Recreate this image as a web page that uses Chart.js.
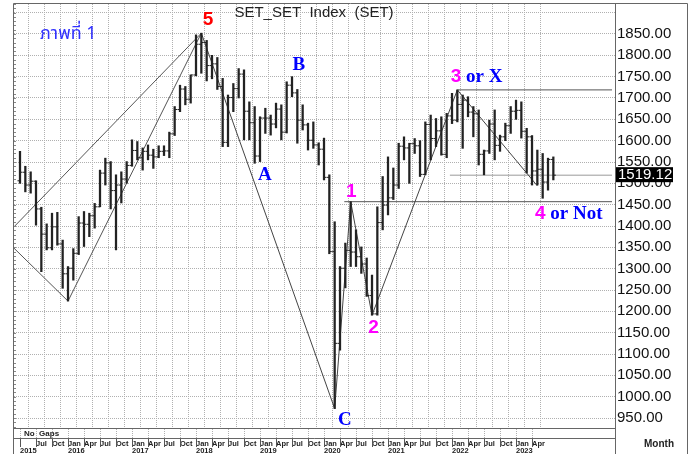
<!DOCTYPE html>
<html>
<head>
<meta charset="utf-8">
<script src="https://cdn.jsdelivr.net/npm/chart.js@4.4.0/dist/chart.umd.min.js"></script>
<style>
  html, body { margin: 0; padding: 0; background: #fff; }
  #wrap { width: 691px; height: 454px; }
</style>
</head>
<body>
<div id="wrap"><canvas id="setChart" width="691" height="454"></canvas></div>
<script>
// SET index, monthly bars Apr 2015 .. Aug 2023
// month index: 0 = Jan 2015, first bar = Apr 2015
const firstMonth = 3;
const opens = [
  1506, 1526, 1496, 1505, 1440, 1381, 1349, 1398, 1358,
  1288, 1301, 1336, 1407, 1404, 1424, 1445, 1524, 1548, 1483, 1496, 1510,
  1542, 1577, 1560, 1575, 1566, 1562, 1575, 1576, 1616, 1673, 1721, 1697,
  1754, 1826, 1830, 1776, 1780, 1727, 1596, 1701, 1722, 1756, 1669, 1642,
  1564, 1653, 1653, 1639, 1674, 1620, 1730, 1712, 1648, 1637, 1601, 1590,
  1580, 1514, 1340, 1125, 1301, 1343, 1339, 1328, 1311, 1237, 1194, 1408,
  1449, 1466, 1496, 1587, 1583, 1593, 1588, 1521, 1638, 1605, 1623, 1568,
  1658, 1648, 1685, 1695, 1667, 1663, 1568, 1576, 1639, 1589, 1609, 1635,
  1669, 1671, 1622, 1609, 1529, 1533, 1503, 1556
];
const highs = [
  1575, 1540, 1527, 1506, 1444, 1405, 1430, 1432, 1367,
  1305, 1347, 1422, 1434, 1430, 1453, 1531, 1559, 1551, 1520, 1527, 1551,
  1602, 1598, 1583, 1590, 1580, 1588, 1588, 1620, 1680, 1730, 1727, 1754,
  1848, 1852, 1835, 1800, 1795, 1746, 1707, 1734, 1769, 1766, 1691, 1680,
  1656, 1676, 1660, 1688, 1684, 1738, 1750, 1720, 1684, 1641, 1644, 1595,
  1606, 1520, 1410, 1305, 1360, 1457, 1391, 1351, 1325, 1285, 1445, 1516,
  1562, 1536, 1594, 1609, 1594, 1605, 1600, 1644, 1660, 1652, 1656, 1664,
  1711, 1719, 1707, 1703, 1680, 1672, 1578, 1648, 1672, 1613, 1641, 1680,
  1695, 1691, 1629, 1612, 1578, 1570, 1559, 1562
];
const lows = [
  1500, 1480, 1477, 1402, 1293, 1344, 1344, 1355, 1254,
  1224, 1273, 1333, 1352, 1375, 1395, 1445, 1496, 1440, 1344, 1454, 1500,
  1540, 1555, 1531, 1555, 1535, 1560, 1565, 1560, 1612, 1668, 1684, 1688,
  1752, 1758, 1740, 1745, 1720, 1586, 1586, 1668, 1700, 1602, 1602, 1547,
  1551, 1617, 1613, 1630, 1602, 1618, 1703, 1594, 1625, 1578, 1582, 1543,
  1508, 1335, 972, 1109, 1255, 1305, 1305, 1289, 1235, 1191, 1191, 1391,
  1426, 1462, 1488, 1555, 1500, 1570, 1516, 1520, 1555, 1586, 1566, 1560,
  1640, 1644, 1582, 1656, 1609, 1543, 1520, 1570, 1555, 1575, 1600, 1617,
  1650, 1606, 1524, 1496, 1496, 1465, 1484, 1508
];
const closes = [
  1526, 1496, 1505, 1440, 1381, 1349, 1398, 1358, 1288,
  1301, 1336, 1407, 1404, 1424, 1445, 1524, 1548, 1483, 1496, 1510, 1542,
  1577, 1560, 1575, 1566, 1562, 1575, 1576, 1616, 1673, 1721, 1697, 1754,
  1826, 1830, 1776, 1780, 1727, 1596, 1701, 1722, 1756, 1669, 1642, 1564,
  1653, 1653, 1639, 1674, 1620, 1730, 1712, 1648, 1637, 1601, 1590, 1580,
  1514, 1340, 1125, 1301, 1343, 1339, 1328, 1311, 1237, 1194, 1408, 1449,
  1466, 1496, 1587, 1583, 1593, 1588, 1521, 1638, 1605, 1623, 1568, 1658,
  1648, 1685, 1695, 1667, 1663, 1568, 1576, 1639, 1589, 1609, 1635, 1669,
  1671, 1622, 1609, 1529, 1533, 1503, 1556, 1519.12
];
const lastPrice = 1519.12;

// wave count drawn on the chart: [month index, price]
const outerLine = [[1.875, 1398], [37, 1852]];
const lowerLine = [[1.875, 1348], [12, 1224]];
const riseLine = [[12, 1224], [37, 1852]];
const waveLine = [[37, 1852], [62, 972], [65, 1457], [69, 1191], [85, 1719], [100, 1494]];
const level1Line = [[63.8, 1457], [114, 1457]];
const level3Line = [[85, 1719], [114, 1719]];
const lastLine = [[83.6, lastPrice], [114, lastPrice]];

// labels: [text parts, month index (left or centre), price]
const waveLabels = [
  { parts: [['5', '#ff0000', 'sans']], m: 38.25, v: 1883, align: 'center' },
  { parts: [['B', '#0000ff', 'serif']], m: 55.3, v: 1778, align: 'center' },
  { parts: [['A', '#0000ff', 'serif']], m: 48.9, v: 1520, align: 'center' },
  { parts: [['C', '#0000ff', 'serif']], m: 63.9, v: 945, align: 'center' },
  { parts: [['1', '#ff00ff', 'sans']], m: 65.1, v: 1481, align: 'center' },
  { parts: [['2', '#ff00ff', 'sans']], m: 69.3, v: 1162, align: 'center' },
  { parts: [['3', '#ff00ff', 'sans'], [' or X', '#0000ff', 'serif']], m: 83.76, v: 1749, align: 'left' },
  { parts: [['4', '#ff00ff', 'sans'], [' or Not', '#0000ff', 'serif']], m: 99.56, v: 1429, align: 'left' }
];

const quarterNames = { 0: 'Jan', 3: 'Apr', 6: 'Jul', 9: 'Oct' };
const lastTickMonth = 99;

const toXY = pts => pts.map(p => ({ x: p[0], y: p[1] }));
const barData = highs.map((h, i) => ({ x: firstMonth + i, y: [lows[i], h] }));

function lineSet(pts, color) {
  return {
    type: 'line', data: toXY(pts), borderColor: color, borderWidth: 1,
    pointRadius: 0, fill: false, tension: 0
  };
}

function noPadding(s) {
  s.paddingTop = 0; s.paddingBottom = 0;
  s.paddingLeft = 0; s.paddingRight = 0;
}

const ohlcTicks = {
  id: 'ohlcTicks',
  afterDatasetsDraw(chart) {
    const { ctx, scales: { x, y } } = chart;
    ctx.save();
    ctx.strokeStyle = '#222';
    ctx.lineWidth = 1;
    opens.forEach((o, i) => {
      const px = x.getPixelForValue(firstMonth + i);
      const yo = y.getPixelForValue(o);
      const yc = y.getPixelForValue(closes[i]);
      ctx.beginPath();
      ctx.moveTo(px - 2.5, yo); ctx.lineTo(px, yo);
      ctx.moveTo(px, yc); ctx.lineTo(px + 2.5, yc);
      ctx.stroke();
    });
    ctx.restore();
  }
};

const decorations = {
  id: 'decorations',
  beforeDraw(chart) {
    const { ctx } = chart;
    ctx.save();
    ctx.fillStyle = '#fff';
    ctx.fillRect(0, 0, chart.width, chart.height);
    ctx.restore();
  },
  afterDraw(chart) {
    const { ctx, chartArea: ca, scales: { x, y } } = chart;
    ctx.save();

    // wave labels
    waveLabels.forEach(l => {
      let px = x.getPixelForValue(l.m);
      const py = y.getPixelForValue(l.v);
      ctx.textBaseline = 'middle';
      const fonts = l.parts.map(p => p[2] === 'serif'
        ? 'bold 19px "Liberation Serif", "Times New Roman", serif'
        : 'bold 19px "Liberation Sans", Arial, sans-serif');
      if (l.align === 'center') {
        ctx.font = fonts[0];
        px -= ctx.measureText(l.parts[0][0]).width / 2;
      }
      l.parts.forEach((p, k) => {
        ctx.font = fonts[k];
        ctx.fillStyle = p[1];
        ctx.textAlign = 'left';
        ctx.fillText(p[0], px, py);
        px += ctx.measureText(p[0]).width;
      });
    });

    // title and figure caption
    ctx.fillStyle = '#222';
    ctx.font = '15px "Liberation Sans", Arial, sans-serif';
    ctx.textAlign = 'center';
    ctx.textBaseline = 'middle';
    ctx.fillText('SET_SET  Index  (SET)', 314, 12.5);

    ctx.fillStyle = '#3030ff';
    ctx.font = '18px "Noto Sans Thai", Tahoma, "DejaVu Sans", sans-serif';
    ctx.textAlign = 'left';
    ctx.fillText('ภาพที่ 1', 40, 35);

    // frame lines
    ctx.strokeStyle = '#666';
    ctx.lineWidth = 1;
    ctx.beginPath();
    ctx.moveTo(13.5, 3.5); ctx.lineTo(687.5, 3.5);
    ctx.moveTo(13.5, 3.5); ctx.lineTo(13.5, 454);
    ctx.moveTo(687.5, 3.5); ctx.lineTo(687.5, 454);
    ctx.moveTo(ca.right + 0.5, 3.5); ctx.lineTo(ca.right + 0.5, 454);
    ctx.moveTo(13.5, 428.5); ctx.lineTo(ca.right, 428.5);
    ctx.moveTo(13.5, 438.5); ctx.lineTo(ca.right, 438.5);
    ctx.stroke();

    // left ruler ticks
    ctx.strokeStyle = '#888';
    ctx.beginPath();
    for (let v = 930; v <= 1920; v += 10) {
      const py = Math.round(y.getPixelForValue(v)) + 0.5;
      ctx.moveTo(14, py); ctx.lineTo(16, py);
    }
    ctx.stroke();

    // quarter grid carried through the "No Gaps" strip, separators in the date row
    ctx.strokeStyle = '#b0b0b0';
    ctx.setLineDash([1, 1]);
    ctx.beginPath();
    x.ticks.forEach(t => {
      const px = Math.round(x.getPixelForValue(t.value)) + 0.5;
      ctx.moveTo(px, 429); ctx.lineTo(px, 438);
    });
    ctx.stroke();
    ctx.setLineDash([]);
    ctx.strokeStyle = '#555';
    ctx.beginPath();
    x.ticks.forEach(t => {
      const px = Math.round(x.getPixelForValue(t.value)) + 0.5;
      ctx.moveTo(px, 439); ctx.lineTo(px, 447);
    });
    ctx.stroke();

    ctx.fillStyle = '#222';
    ctx.font = 'bold 8px "Liberation Sans", Arial, sans-serif';
    ctx.textAlign = 'left';
    ctx.fillText('No  Gaps', 24, 433.5);
    ctx.font = 'bold 10px "Liberation Sans", Arial, sans-serif';
    ctx.fillText('Month', 644, 444);

    // last price box
    const ly = y.getPixelForValue(lastPrice);
    ctx.fillStyle = '#000';
    ctx.fillRect(ca.right + 1, ly - 8, 57, 15);
    ctx.fillStyle = '#fff';
    ctx.font = '15px "Liberation Sans", Arial, sans-serif';
    ctx.textBaseline = 'middle';
    ctx.fillText(lastPrice.toFixed(2), ca.right + 3, ly);

    ctx.restore();
  }
};

new Chart(document.getElementById('setChart'), {
  type: 'bar',
  data: {
    datasets: [
      {
        type: 'bar', data: barData, backgroundColor: '#222',
        barThickness: 1.6, borderWidth: 0, grouped: false
      },
      lineSet(outerLine, '#555'),
      lineSet(lowerLine, '#555'),
      lineSet(riseLine, '#555'),
      lineSet(waveLine, '#444'),
      lineSet(level1Line, '#555'),
      lineSet(level3Line, '#555'),
      lineSet(lastLine, '#999')
    ]
  },
  options: {
    responsive: false,
    animation: false,
    devicePixelRatio: 1,
    layout: { padding: { left: 14, top: 4, right: 0, bottom: 0 } },
    plugins: { legend: { display: false }, tooltip: { enabled: false } },
    scales: {
      x: {
        type: 'linear', offset: false,
        min: 1.875, max: 114.56,
        afterFit(s) { s.height = 26; noPadding(s); },
        afterBuildTicks(s) { s.ticks = s.ticks.filter(t => t.value <= lastTickMonth); },
        grid: { color: '#b0b0b0', drawTicks: false },
        border: { color: '#666', dash: [1, 1] },
        ticks: {
          stepSize: 3, includeBounds: false, maxTicksLimit: 1000,
          autoSkip: false, maxRotation: 0, align: 'start', padding: 12,
          color: '#222',
          font: { family: '"Liberation Sans", Arial, sans-serif', size: 7.5, weight: 'bold', lineHeight: 0.93 },
          callback(value) {
            const mo = value % 12;
            const yr = 2015 + Math.floor(value / 12);
            if (value === firstMonth) return ['', '2015'];
            return [quarterNames[mo] || '', mo === 0 ? String(yr) : ''];
          }
        }
      },
      y: {
        position: 'right',
        min: 926.6, max: 1920.3,
        afterFit(s) { s.width = 76; noPadding(s); },
        grid: { color: '#b0b0b0', drawTicks: false },
        border: { color: '#666', dash: [1, 1] },
        ticks: {
          stepSize: 50, includeBounds: false, maxTicksLimit: 1000,
          padding: 2, color: '#111',
          font: { family: '"Liberation Sans", Arial, sans-serif', size: 15 },
          callback(value) { return value <= 1850 ? value.toFixed(2) : ''; }
        }
      }
    }
  },
  plugins: [ohlcTicks, decorations]
});
</script>
</body>
</html>
